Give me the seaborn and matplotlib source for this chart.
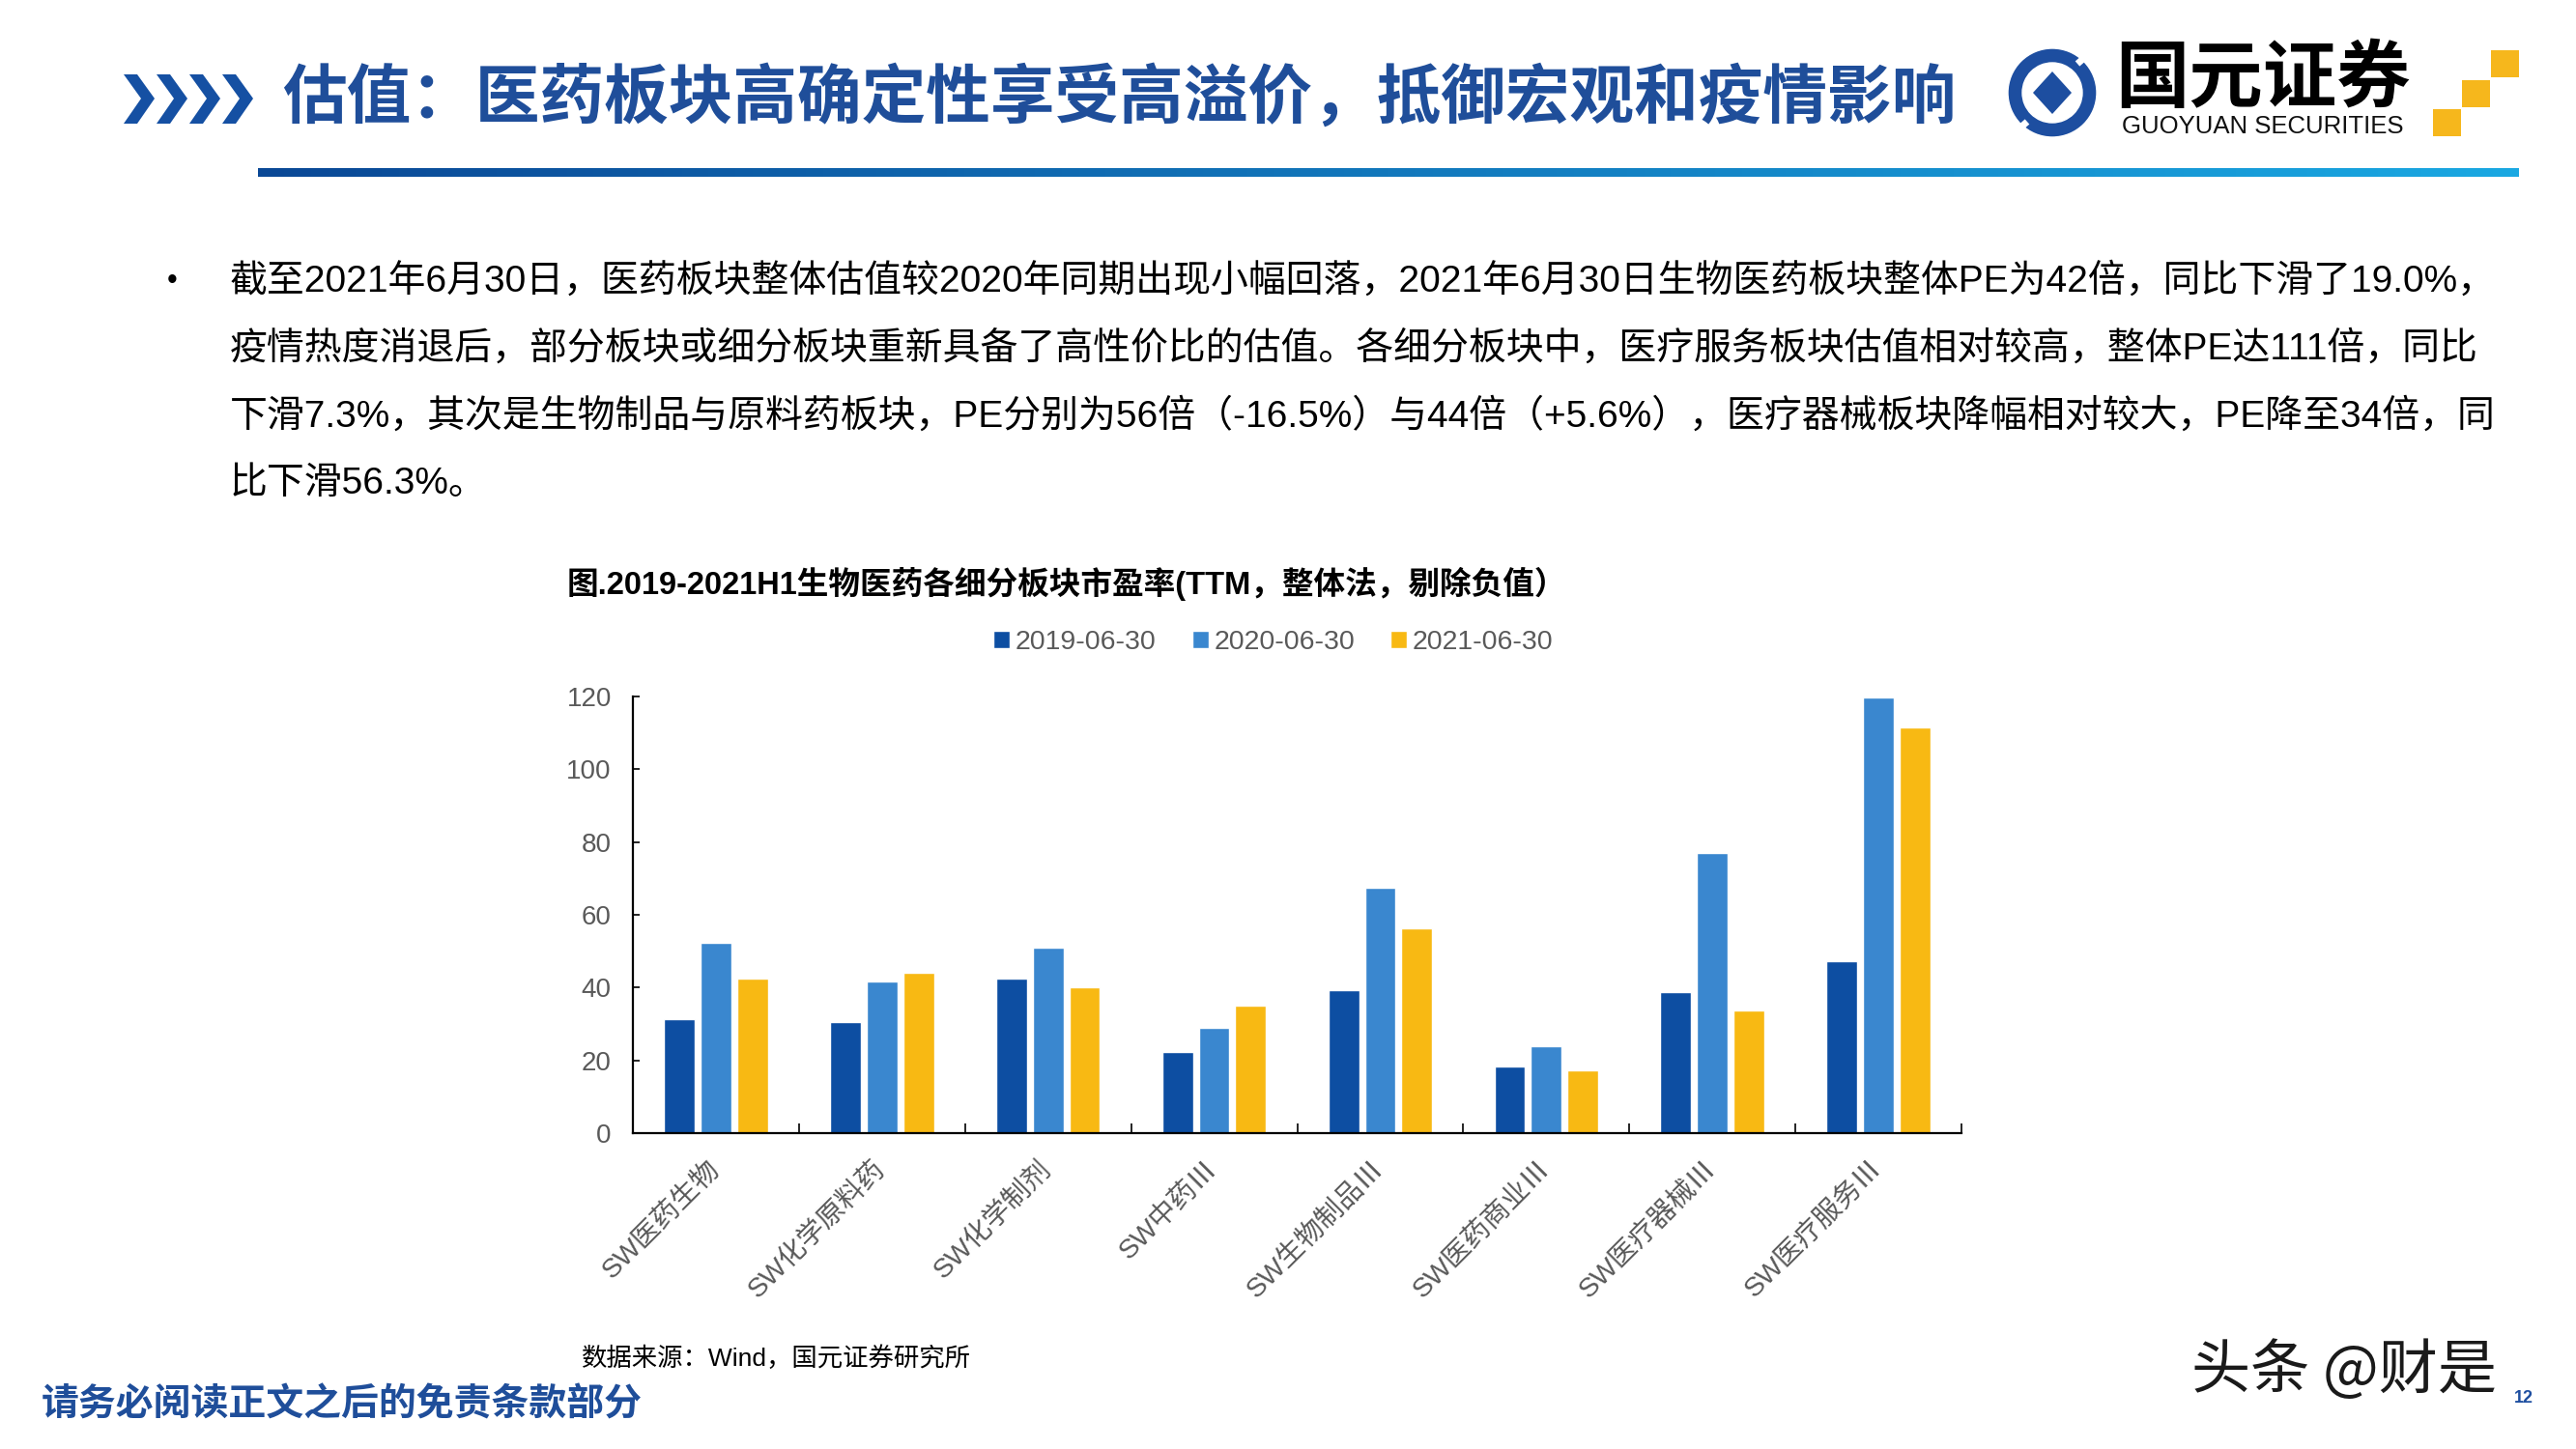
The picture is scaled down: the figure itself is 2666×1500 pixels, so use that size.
import numpy as np
import pandas as pd
import matplotlib
matplotlib.use('Agg')
import matplotlib.pyplot as plt
from matplotlib.patches import Polygon, Wedge, Rectangle
from matplotlib.colors import LinearSegmentedColormap
import seaborn as sns

# ---- data ----
categories = ['SW医药生物', 'SW化学原料药', 'SW化学制剂', 'SW中药Ⅲ',
              'SW生物制品Ⅲ', 'SW医药商业Ⅲ', 'SW医疗器械Ⅲ', 'SW医疗服务Ⅲ']
dates = ['2019-06-30', '2020-06-30', '2021-06-30']
pe_2019 = [31.4, 30.4, 42.6, 22.3, 39.2, 18.4, 38.8, 47.2]
pe_2020 = [52.2, 41.6, 51.1, 28.9, 67.5, 23.8, 77.1, 119.7]
pe_2021 = [42.5, 44.0, 40.0, 35.0, 56.4, 17.3, 33.7, 111.4]
yticks = [0, 20, 40, 60, 80, 100, 120]

colors = ['#0D4EA2', '#3A87CF', '#F8B913']
navy = '#1F4E9A'

header = '估值：医药板块高确定性享受高溢价，抵御宏观和疫情影响'
body_lines = [
    '截至2021年6月30日，医药板块整体估值较2020年同期出现小幅回落，2021年6月30日生物医药板块整体PE为42倍，同比下滑了19.0%，',
    '疫情热度消退后，部分板块或细分板块重新具备了高性价比的估值。各细分板块中，医疗服务板块估值相对较高，整体PE达111倍，同比',
    '下滑7.3%，其次是生物制品与原料药板块，PE分别为56倍（-16.5%）与44倍（+5.6%），医疗器械板块降幅相对较大，PE降至34倍，同',
    '比下滑56.3%。',
]
chart_title = '图.2019-2021H1生物医药各细分板块市盈率(TTM，整体法，剔除负值）'
source = '数据来源：Wind，国元证券研究所'
footer = '请务必阅读正文之后的免责条款部分'

sns.set_theme(style='white')
plt.rcParams['font.family'] = ['Liberation Sans', 'Noto Sans CJK SC']
plt.rcParams['axes.unicode_minus'] = False
cjk = ['Noto Sans CJK SC', 'DejaVu Sans']

W, H = 2666, 1500
fig = plt.figure(figsize=(W / 100, H / 100), dpi=100)
fig.patch.set_facecolor('white')

# overlay in pixel coordinates for the slide decorations
ov = fig.add_axes([0, 0, 1, 1])
ov.axis('off')

# chevrons
for i in range(4):
    x = 128 + i * 34
    ov.add_patch(Polygon([(x, 77), (x + 14, 77), (x + 32, 102), (x + 14, 128),
                          (x, 128), (x + 18, 102)], closed=True,
                         facecolor='#1550A3', edgecolor='none'))

ov.text(292, 102, header, color=navy, fontsize=48, fontweight='bold',
        va='center', ha='left', family=cjk)

# gradient rule under the header
cmap = LinearSegmentedColormap.from_list('rule', ['#0A4896', '#1AA8E2'])
ov.imshow(np.linspace(0, 1, 256).reshape(1, -1), extent=[267, 2607, 183, 174],
          aspect='auto', cmap=cmap, zorder=1)

# logo
ov.add_patch(Wedge((2124, 96), 46, 0, 360, width=15, facecolor='#1D4EA0'))
ov.add_patch(Polygon([(2124, 74), (2144, 96), (2124, 118), (2104, 96)],
                     facecolor='#1D4EA0', edgecolor='none'))
ov.plot([2150, 2166], [66, 52], color='white', lw=5, solid_capstyle='butt')
ov.plot([2098, 2082], [126, 140], color='white', lw=5, solid_capstyle='butt')
ov.text(2342, 82, '国元证券', fontsize=55, fontweight='bold', color='black',
        ha='center', va='center', family=cjk)
ov.text(2342, 131, 'GUOYUAN SECURITIES', fontsize=18.5, color='#111111',
        ha='center', va='center')
for (sx, sy) in [(2518, 113), (2548, 83), (2578, 52)]:
    ov.add_patch(Rectangle((sx, sy), 29, 28, facecolor='#F6B71C', edgecolor='none'))

# bullet text
ov.text(178, 291, '•', fontsize=22, va='center', ha='center', color='black')
for i, line in enumerate(body_lines):
    ov.text(238, 291 + i * 70, line, fontsize=28, va='center', ha='left',
            color='black')

ov.text(587, 604, chart_title, fontsize=23.5, fontweight='bold', va='center',
        ha='left', color='black')
ov.text(602, 1406, source, fontsize=19, va='center', ha='left', color='black')
ov.text(43, 1454, footer, fontsize=28, fontweight='bold', va='center',
        ha='left', color=navy, family=cjk)
ov.text(2268, 1420, '头条 @财是', fontsize=44, va='center', ha='left',
        color='#1A1A1A', family=cjk)
ov.text(2612, 1447, '12', fontsize=13, fontweight='bold', va='center',
        ha='center', color='#1D4EA0')

ov.set_xlim(0, W)
ov.set_ylim(H, 0)

# ---- bar chart ----
ax = fig.add_axes([655 / W, 1 - 1173 / H, (2030 - 655) / W, (1173 - 721) / H])
df = pd.DataFrame({
    'category': categories * 3,
    'date': np.repeat(dates, len(categories)),
    'pe': pe_2019 + pe_2020 + pe_2021,
})
sns.barplot(data=df, x='category', y='pe', hue='date', palette=colors,
            width=0.66, gap=0.16, saturation=1, ax=ax, legend=True)

ax.set_ylim(0, 120)
ax.set_xlim(-0.5, len(categories) - 0.5)
ax.set_yticks(yticks)
ax.set_xlabel('')
ax.set_ylabel('')
ax.set_facecolor('white')
for s in ['top', 'right']:
    ax.spines[s].set_visible(False)
for s in ['left', 'bottom']:
    ax.spines[s].set_color('black')
    ax.spines[s].set_linewidth(1.6)

ax.tick_params(axis='y', direction='in', length=5, width=1.2, color='black',
               pad=16, labelsize=20, labelcolor='#595959', left=True)
ax.set_xticks(np.arange(-0.5, len(categories), 1), minor=True)
ax.tick_params(axis='x', which='minor', direction='in', length=7, width=1.2,
               color='black', bottom=True)
ax.tick_params(axis='x', which='major', length=0, pad=24)
ax.set_xticklabels(categories, rotation=45, ha='right', va='center',
                   rotation_mode='anchor', fontsize=20.5, color='#595959')

sns.move_legend(ax, 'center', bbox_to_anchor=(1318 / W, 1 - 665 / H),
                bbox_transform=fig.transFigure, ncol=3, frameon=False,
                title=None, fontsize=20.5, handlelength=0.6, handleheight=0.6,
                handletextpad=0.2, columnspacing=1.3, labelcolor='#595959')

fig.savefig('out.png', dpi=100)
